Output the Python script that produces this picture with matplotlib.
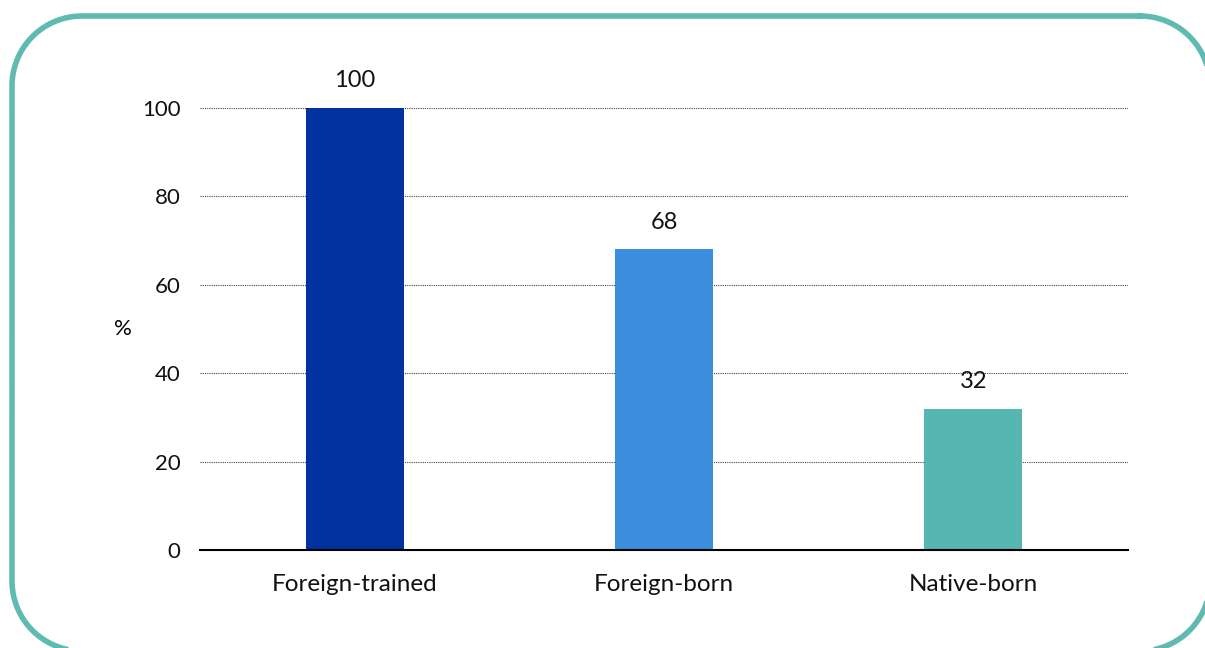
import numpy as np
import matplotlib.pyplot as plt

categories = ['Foreign-trained', 'Foreign-born', 'Native-born']
values = [100, 68, 32]
colors = ['#0033A0', '#3A8EDD', '#56B6B2']
yticks = [0, 20, 40, 60, 80, 100]

W, H = 1205, 648
fig = plt.figure(figsize=(W / 100, H / 100), dpi=100)
plt.rcParams['font.family'] = ['Lato', 'DejaVu Sans']

# background axes in pixel units for the rounded frame
bg = fig.add_axes([0, 0, 1, 1])
bg.set_xlim(0, W)
bg.set_ylim(H, 0)
bg.axis('off')


def rounded_box(x0, y0, x1, y1, r, n=40):
    # corner centres and start angles (y axis points down)
    corners = [(x1 - r, y0 + r, -90), (x1 - r, y1 - r, 0),
               (x0 + r, y1 - r, 90), (x0 + r, y0 + r, 180)]
    xs, ys = [], []
    for cx, cy, a0 in corners:
        t = np.radians(np.linspace(a0, a0 + 90, n))
        xs.extend(cx + r * np.cos(t))
        ys.extend(cy + r * np.sin(t))
    xs.append(xs[0])
    ys.append(ys[0])
    return xs, ys


fx, fy = rounded_box(12, 16, 1210, 651, 70)
bg.plot(fx, fy, color='#5FBAB2', linewidth=4, solid_joinstyle='round',
        clip_on=False)

ax = fig.add_axes([200 / W, (H - 550) / H, 928 / W, 442 / H])
x = range(len(categories))
bars = ax.bar(x, values, width=0.317, color=colors, zorder=3)

for b, v in zip(bars, values):
    ax.annotate(str(v), (b.get_x() + b.get_width() / 2, v),
                xytext=(0, 12), textcoords='offset points',
                ha='center', va='bottom', fontsize=17, color='#111111')

ax.set_xlim(-0.5, 2.5)
ax.set_ylim(0, 100)
ax.set_yticks(yticks)
ax.set_xticks(list(x))
ax.set_xticklabels(categories, fontsize=17.5)
ax.tick_params(axis='both', length=0, colors='#111111')
ax.tick_params(axis='y', pad=14, labelsize=16)
ax.tick_params(axis='x', pad=17)
ax.yaxis.grid(True, linestyle=(0, (1, 1)), color='#444444', linewidth=0.8, zorder=0)
for s in ['top', 'right', 'left']:
    ax.spines[s].set_visible(False)
ax.spines['bottom'].set_linewidth(1.5)
ax.spines['bottom'].set_zorder(4)
ax.set_ylabel('%', rotation=0, fontsize=16, va='center', ha='center')
ax.yaxis.set_label_coords(-0.083, 0.50)

fig.savefig('out.png', dpi=100)
